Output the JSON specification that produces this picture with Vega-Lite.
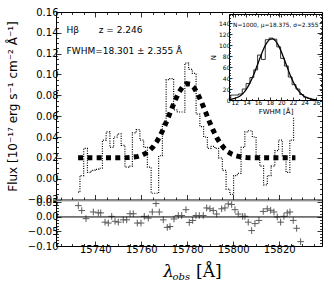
{
  "$schema": "https://vega.github.io/schema/vega-lite/v6.json",
  "width": 266,
  "height": 234,
  "autosize": {"type": "none"},
  "padding": {"left": 56, "top": 12, "right": 12, "bottom": 41},
  "config": {
    "font": "DejaVu Sans",
    "view": {"stroke": "black", "strokeWidth": 1},
    "axis": {"grid": false, "domain": false, "domainColor": "black", "labelColor": "black", "tickColor": "black", "titleColor": "black", "titleFontWeight": "normal", "labelFont": "DejaVu Sans", "titleFont": "DejaVu Sans", "labelOverlap": false, "labelFlush": false, "tickWidth": 0.8}
  },
  "datasets": {
    "spec": [
      {"wl": 15732.50, "flux": -0.013, "fit": 0.0200},
      {"wl": 15734.13, "flux": 0.003, "fit": 0.0200},
      {"wl": 15735.76, "flux": 0.029, "fit": 0.0200},
      {"wl": 15737.39, "flux": 0.006, "fit": 0.0200},
      {"wl": 15739.02, "flux": 0.008, "fit": 0.0200},
      {"wl": 15740.65, "flux": 0.009, "fit": 0.0200},
      {"wl": 15742.28, "flux": 0.010, "fit": 0.0200},
      {"wl": 15743.91, "flux": 0.037, "fit": 0.0200},
      {"wl": 15745.54, "flux": 0.045, "fit": 0.0200},
      {"wl": 15747.17, "flux": 0.030, "fit": 0.0200},
      {"wl": 15748.80, "flux": 0.040, "fit": 0.0200},
      {"wl": 15750.43, "flux": 0.043, "fit": 0.0200},
      {"wl": 15752.06, "flux": 0.032, "fit": 0.0201},
      {"wl": 15753.69, "flux": 0.011, "fit": 0.0202},
      {"wl": 15755.32, "flux": 0.012, "fit": 0.0204},
      {"wl": 15756.95, "flux": 0.044, "fit": 0.0208},
      {"wl": 15758.58, "flux": 0.047, "fit": 0.0214},
      {"wl": 15760.21, "flux": 0.037, "fit": 0.0225},
      {"wl": 15761.84, "flux": 0.030, "fit": 0.0242},
      {"wl": 15763.47, "flux": 0.011, "fit": 0.0268},
      {"wl": 15765.10, "flux": -0.014, "fit": 0.0305},
      {"wl": 15766.73, "flux": -0.014, "fit": 0.0355},
      {"wl": 15768.36, "flux": 0.022, "fit": 0.0419},
      {"wl": 15769.99, "flux": 0.053, "fit": 0.0496},
      {"wl": 15771.62, "flux": 0.095, "fit": 0.0583},
      {"wl": 15773.25, "flux": 0.096, "fit": 0.0673},
      {"wl": 15774.88, "flux": 0.066, "fit": 0.0760},
      {"wl": 15776.51, "flux": 0.064, "fit": 0.0834},
      {"wl": 15778.14, "flux": 0.064, "fit": 0.0887},
      {"wl": 15779.77, "flux": 0.111, "fit": 0.0912},
      {"wl": 15781.40, "flux": 0.105, "fit": 0.0907},
      {"wl": 15783.03, "flux": 0.101, "fit": 0.0871},
      {"wl": 15784.66, "flux": 0.062, "fit": 0.0810},
      {"wl": 15786.29, "flux": 0.050, "fit": 0.0730},
      {"wl": 15787.92, "flux": 0.040, "fit": 0.0641},
      {"wl": 15789.55, "flux": 0.029, "fit": 0.0551},
      {"wl": 15791.18, "flux": 0.031, "fit": 0.0468},
      {"wl": 15792.81, "flux": 0.029, "fit": 0.0395},
      {"wl": 15794.44, "flux": 0.020, "fit": 0.0336},
      {"wl": 15796.07, "flux": 0.008, "fit": 0.0291},
      {"wl": 15797.70, "flux": -0.010, "fit": 0.0258},
      {"wl": 15799.33, "flux": -0.015, "fit": 0.0236},
      {"wl": 15800.96, "flux": 0.003, "fit": 0.0221},
      {"wl": 15802.59, "flux": 0.005, "fit": 0.0212},
      {"wl": 15804.22, "flux": 0.030, "fit": 0.0206},
      {"wl": 15805.85, "flux": 0.045, "fit": 0.0203},
      {"wl": 15807.48, "flux": 0.046, "fit": 0.0201},
      {"wl": 15809.11, "flux": 0.040, "fit": 0.0200},
      {"wl": 15810.74, "flux": 0.022, "fit": 0.0200},
      {"wl": 15812.37, "flux": 0.012, "fit": 0.0200},
      {"wl": 15814.00, "flux": -0.006, "fit": 0.0200},
      {"wl": 15815.63, "flux": 0.003, "fit": 0.0200},
      {"wl": 15817.26, "flux": 0.012, "fit": 0.0200},
      {"wl": 15818.89, "flux": 0.027, "fit": 0.0200},
      {"wl": 15820.52, "flux": 0.037, "fit": 0.0200},
      {"wl": 15822.15, "flux": 0.022, "fit": 0.0200},
      {"wl": 15823.78, "flux": 0.006, "fit": 0.0200},
      {"wl": 15825.41, "flux": 0.037, "fit": 0.0200},
      {"wl": 15827.04, "flux": 0.058, "fit": 0.0200}
    ],
    "resid": [
      {"wl": 15732.61, "res": 0.039}, {"wl": 15734.09, "res": 0.022}, {"wl": 15735.96, "res": -0.006},
      {"wl": 15739.13, "res": 0.017}, {"wl": 15741.30, "res": 0.014}, {"wl": 15742.35, "res": 0.014},
      {"wl": 15744.22, "res": -0.018}, {"wl": 15745.65, "res": -0.021}, {"wl": 15747.13, "res": 0.002},
      {"wl": 15748.57, "res": -0.015}, {"wl": 15750.00, "res": -0.018}, {"wl": 15752.17, "res": -0.010},
      {"wl": 15753.65, "res": -0.010}, {"wl": 15755.09, "res": 0.011}, {"wl": 15756.52, "res": 0.011},
      {"wl": 15758.26, "res": -0.021}, {"wl": 15759.87, "res": -0.021}, {"wl": 15761.30, "res": 0.002},
      {"wl": 15763.04, "res": -0.004}, {"wl": 15764.78, "res": 0.017}, {"wl": 15766.39, "res": 0.046},
      {"wl": 15767.83, "res": 0.017}, {"wl": 15769.57, "res": -0.010}, {"wl": 15771.30, "res": -0.036},
      {"wl": 15772.48, "res": -0.033}, {"wl": 15774.22, "res": -0.007}, {"wl": 15776.09, "res": 0.005},
      {"wl": 15777.57, "res": 0.005}, {"wl": 15779.43, "res": 0.025}, {"wl": 15780.87, "res": -0.019},
      {"wl": 15782.35, "res": -0.012}, {"wl": 15783.78, "res": 0.005}, {"wl": 15785.22, "res": 0.005},
      {"wl": 15786.96, "res": 0.005}, {"wl": 15788.43, "res": 0.031}, {"wl": 15789.87, "res": 0.028},
      {"wl": 15791.30, "res": 0.022}, {"wl": 15792.78, "res": 0.010}, {"wl": 15794.96, "res": 0.028},
      {"wl": 15796.39, "res": 0.031}, {"wl": 15797.83, "res": 0.045}, {"wl": 15799.30, "res": 0.043},
      {"wl": 15800.74, "res": 0.025}, {"wl": 15802.17, "res": 0.010}, {"wl": 15804.09, "res": 0.002},
      {"wl": 15805.09, "res": 0.002}, {"wl": 15806.52, "res": -0.018}, {"wl": 15808.00, "res": -0.047},
      {"wl": 15809.43, "res": -0.023}, {"wl": 15811.17, "res": -0.012}, {"wl": 15813.04, "res": 0.019},
      {"wl": 15814.78, "res": 0.028}, {"wl": 15816.26, "res": 0.023}, {"wl": 15817.70, "res": 0.017},
      {"wl": 15819.13, "res": 0.000}, {"wl": 15820.61, "res": -0.018}, {"wl": 15822.04, "res": 0.002},
      {"wl": 15823.48, "res": 0.014}, {"wl": 15824.65, "res": 0.017}, {"wl": 15826.09, "res": -0.012},
      {"wl": 15827.57, "res": -0.039}, {"wl": 15829.30, "res": -0.085}
    ],
    "hist": [
      {"k": 0, "e": 11.30, "n": 0}, {"k": 1, "e": 11.30, "n": 9}, {"k": 2, "e": 11.96, "n": 9},
      {"k": 3, "e": 12.62, "n": 11}, {"k": 4, "e": 13.28, "n": 20}, {"k": 5, "e": 13.94, "n": 30},
      {"k": 6, "e": 14.60, "n": 41}, {"k": 7, "e": 15.26, "n": 55}, {"k": 8, "e": 15.92, "n": 82},
      {"k": 9, "e": 16.58, "n": 74}, {"k": 10, "e": 17.24, "n": 110}, {"k": 11, "e": 17.90, "n": 113},
      {"k": 12, "e": 18.56, "n": 111}, {"k": 13, "e": 19.22, "n": 97}, {"k": 14, "e": 19.88, "n": 76},
      {"k": 15, "e": 20.54, "n": 62}, {"k": 16, "e": 21.20, "n": 42}, {"k": 17, "e": 21.86, "n": 28},
      {"k": 18, "e": 22.52, "n": 20}, {"k": 19, "e": 23.18, "n": 10}, {"k": 20, "e": 23.84, "n": 5},
      {"k": 21, "e": 24.50, "n": 3}, {"k": 22, "e": 25.16, "n": 1}, {"k": 23, "e": 25.82, "n": 1},
      {"k": 24, "e": 25.82, "n": 0}
    ],
    "curve": [
      {"fw": 11.0, "n": 0.8}, {"fw": 11.5, "n": 1.6}, {"fw": 12.0, "n": 2.9}, {"fw": 12.5, "n": 5.0},
      {"fw": 13.0, "n": 8.3}, {"fw": 13.5, "n": 13.1}, {"fw": 14.0, "n": 19.9}, {"fw": 14.5, "n": 28.9},
      {"fw": 15.0, "n": 40.0}, {"fw": 15.5, "n": 53.0}, {"fw": 16.0, "n": 67.2}, {"fw": 16.5, "n": 81.4},
      {"fw": 17.0, "n": 94.3}, {"fw": 17.5, "n": 104.3}, {"fw": 18.0, "n": 110.4}, {"fw": 18.5, "n": 111.6},
      {"fw": 19.0, "n": 107.9}, {"fw": 19.5, "n": 99.7}, {"fw": 20.0, "n": 88.1}, {"fw": 20.5, "n": 74.4},
      {"fw": 21.0, "n": 60.1}, {"fw": 21.5, "n": 46.3}, {"fw": 22.0, "n": 34.2}, {"fw": 22.5, "n": 24.1},
      {"fw": 23.0, "n": 16.2}, {"fw": 23.5, "n": 10.5}, {"fw": 24.0, "n": 6.4}, {"fw": 24.5, "n": 3.8},
      {"fw": 25.0, "n": 2.1}, {"fw": 25.5, "n": 1.2}, {"fw": 26.0, "n": 0.6}
    ],
    "notes": [
      {"wl": 15727.5, "flux": 0.1427, "label": "Hβ"},
      {"wl": 15741.5, "flux": 0.1427, "label": "z =  2.246"},
      {"wl": 15727.5, "flux": 0.1229, "label": "FWHM=18.301 ± 2.355 Å"}
    ],
    "xt": [
      {"wl": 15769.5, "res": -0.208, "label": "λ"},
      {"wl": 15773.6, "res": -0.216, "label": "obs"},
      {"wl": 15783.8, "res": -0.208, "label": "[Å]"}
    ]
  },
  "layer": [
    {
      "data": {"name": "spec"},
      "mark": {"type": "line", "interpolate": "step", "strokeDash": [1, 1.4], "strokeWidth": 1.2, "color": "black"},
      "encoding": {
        "x": {"field": "wl", "type": "quantitative", "scale": {"domain": [15722.9, 15838.6], "range": [0, 266], "nice": false, "zero": false},
          "axis": {"orient": "bottom", "offset": -46.5, "title": null, "labels": false, "domain": true, "domainWidth": 1.2,
            "values": [15725, 15730, 15735, 15740, 15745, 15750, 15755, 15760, 15765, 15770, 15775, 15780, 15785, 15790, 15795, 15800, 15805, 15810, 15815, 15820, 15825, 15830, 15835],
            "tickSize": {"condition": {"test": "datum.value % 20 === 0", "value": -5}, "value": -2.5}}},
        "y": {"field": "flux", "type": "quantitative", "scale": {"domain": [-0.02, 0.16], "range": [187.5, 0], "nice": false, "zero": false},
          "axis": {"orient": "left", "format": ".2f", "labelFontSize": 10, "labelPadding": 3,
            "values": [-0.02, -0.015, -0.01, -0.005, 0, 0.005, 0.01, 0.015, 0.02, 0.025, 0.03, 0.035, 0.04, 0.045, 0.05, 0.055, 0.06, 0.065, 0.07, 0.075, 0.08, 0.085, 0.09, 0.095, 0.1, 0.105, 0.11, 0.115, 0.12, 0.125, 0.13, 0.135, 0.14, 0.145, 0.15, 0.155, 0.16],
            "labelExpr": "abs(datum.value*50 - round(datum.value*50)) < 0.01 ? datum.label : ''",
            "tickSize": {"condition": {"test": "abs(datum.value*50 - round(datum.value*50)) < 0.01", "value": -5}, "value": -2.5},
            "title": "Flux [10⁻¹⁷ erg s⁻¹ cm⁻² Å⁻¹]", "titleFontSize": 12, "titleAngle": 270, "titleX": -44, "titleY": 94, "titleAlign": "center", "titleBaseline": "middle"}}
      }
    },
    {
      "data": {"name": "spec"},
      "mark": {"type": "line", "strokeWidth": 5, "strokeDash": [5, 4.3], "strokeCap": "butt", "color": "black"},
      "encoding": {
        "x": {"field": "wl", "type": "quantitative", "scale": {"domain": [15722.9, 15838.6], "range": [0, 266], "nice": false, "zero": false},
          "axis": {"orient": "top", "title": null, "labels": false,
            "values": [15725, 15730, 15735, 15740, 15745, 15750, 15755, 15760, 15765, 15770, 15775, 15780, 15785, 15790, 15795, 15800, 15805, 15810, 15815, 15820, 15825, 15830, 15835],
            "tickSize": {"condition": {"test": "datum.value % 20 === 0", "value": -5}, "value": -2.5}}},
        "y": {"field": "fit", "type": "quantitative", "scale": {"domain": [-0.02, 0.16], "range": [187.5, 0], "nice": false, "zero": false},
          "axis": {"orient": "right", "title": null, "labels": false,
            "values": [-0.02, -0.015, -0.01, -0.005, 0, 0.005, 0.01, 0.015, 0.02, 0.025, 0.03, 0.035, 0.04, 0.045, 0.05, 0.055, 0.06, 0.065, 0.07, 0.075, 0.08, 0.085, 0.09, 0.095, 0.1, 0.105, 0.11, 0.115, 0.12, 0.125, 0.13, 0.135, 0.14, 0.145, 0.15, 0.155, 0.16],
            "tickSize": {"condition": {"test": "abs(datum.value*50 - round(datum.value*50)) < 0.01", "value": -5}, "value": -2.5}}}
      }
    },
    {
      "data": {"name": "resid"},
      "mark": {"type": "point", "shape": "M-1,0L1,0M0,-1L0,1", "size": 45, "filled": false, "strokeWidth": 1, "color": "#5a5a5a", "opacity": 1},
      "encoding": {
        "x": {"field": "wl", "type": "quantitative", "scale": {"domain": [15722.9, 15838.6], "range": [0, 266], "nice": false, "zero": false},
          "axis": {"orient": "bottom", "title": null, "format": "d", "labelFontSize": 10, "labelPadding": 3,
            "values": [15725, 15730, 15735, 15740, 15745, 15750, 15755, 15760, 15765, 15770, 15775, 15780, 15785, 15790, 15795, 15800, 15805, 15810, 15815, 15820, 15825, 15830, 15835],
            "labelExpr": "datum.value % 20 === 0 ? datum.label : ''",
            "tickSize": {"condition": {"test": "datum.value % 20 === 0", "value": -5}, "value": -2.5}}},
        "y": {"field": "res", "type": "quantitative", "scale": {"domain": [-0.1, 0.06], "range": [234, 187.5], "nice": false, "zero": false},
          "axis": {"orient": "left", "title": null, "format": ".2f", "labelFontSize": 10, "labelPadding": 3,
            "values": [-0.1, -0.09, -0.08, -0.07, -0.06, -0.05, -0.04, -0.03, -0.02, -0.01, 0, 0.01, 0.02, 0.03, 0.04, 0.05],
            "labelExpr": "abs(datum.value*20 - round(datum.value*20)) < 0.01 ? datum.label : ''",
            "tickSize": {"condition": {"test": "abs(datum.value*20 - round(datum.value*20)) < 0.01", "value": -5}, "value": -2.5}}}
      }
    },
    {
      "data": {"values": [{"res": 0}]},
      "mark": {"type": "rule", "color": "black", "strokeWidth": 1},
      "encoding": {
        "y": {"field": "res", "type": "quantitative", "scale": {"domain": [-0.1, 0.06], "range": [234, 187.5], "nice": false, "zero": false},
          "axis": {"orient": "right", "title": null, "labels": false,
            "values": [-0.1, -0.09, -0.08, -0.07, -0.06, -0.05, -0.04, -0.03, -0.02, -0.01, 0, 0.01, 0.02, 0.03, 0.04, 0.05],
            "tickSize": {"condition": {"test": "abs(datum.value*20 - round(datum.value*20)) < 0.01", "value": -5}, "value": -2.5}}}
      }
    },
    {
      "data": {"values": [{"res": 0.055}]},
      "mark": {"type": "rule", "color": "#a0a0a0", "strokeWidth": 1},
      "encoding": {
        "y": {"field": "res", "type": "quantitative", "scale": {"domain": [-0.1, 0.06], "range": [234, 187.5], "nice": false, "zero": false}, "axis": null}
      }
    },
    {
      "data": {"name": "hist"},
      "mark": {"type": "line", "interpolate": "step-after", "color": "black", "strokeWidth": 0.8},
      "encoding": {
        "order": {"field": "k", "type": "quantitative"},
        "x": {"field": "e", "type": "quantitative", "scale": {"domain": [11, 27], "range": [173, 266], "nice": false, "zero": false},
          "axis": {"orient": "bottom", "offset": -146, "domain": true, "format": "d", "labelFontSize": 6, "labelPadding": 2,
            "values": [11, 11.5, 12, 12.5, 13, 13.5, 14, 14.5, 15, 15.5, 16, 16.5, 17, 17.5, 18, 18.5, 19, 19.5, 20, 20.5, 21, 21.5, 22, 22.5, 23, 23.5, 24, 24.5, 25, 25.5, 26, 26.5],
            "labelExpr": "datum.value % 2 === 0 ? datum.label : ''",
            "tickSize": {"condition": {"test": "datum.value % 2 === 0", "value": -3}, "value": -1.5},
            "title": "FWHM [Å]", "titleFontSize": 7, "titlePadding": 1}},
        "y": {"field": "n", "type": "quantitative", "scale": {"domain": [0, 157], "range": [88, 2], "nice": false, "zero": false},
          "axis": {"orient": "left", "offset": -173, "domain": true, "labelFontSize": 6, "labelPadding": 2,
            "values": [0, 5, 10, 15, 20, 25, 30, 35, 40, 45, 50, 55, 60, 65, 70, 75, 80, 85, 90, 95, 100, 105, 110, 115, 120, 125, 130, 135, 140, 145, 150, 155],
            "labelExpr": "datum.value % 20 === 0 ? datum.label : ''",
            "tickSize": {"condition": {"test": "datum.value % 20 === 0", "value": -3}, "value": -1.5},
            "title": "N", "titleFontSize": 7, "titlePadding": 2}}
      }
    },
    {
      "data": {"name": "curve"},
      "mark": {"type": "line", "interpolate": "monotone", "color": "black", "strokeWidth": 1.3},
      "encoding": {
        "x": {"field": "fw", "type": "quantitative", "scale": {"domain": [11, 27], "range": [173, 266], "nice": false, "zero": false},
          "axis": {"orient": "top", "offset": -2, "domain": true, "labels": false, "title": null,
            "values": [11, 11.5, 12, 12.5, 13, 13.5, 14, 14.5, 15, 15.5, 16, 16.5, 17, 17.5, 18, 18.5, 19, 19.5, 20, 20.5, 21, 21.5, 22, 22.5, 23, 23.5, 24, 24.5, 25, 25.5, 26, 26.5],
            "tickSize": {"condition": {"test": "datum.value % 2 === 0", "value": -3}, "value": -1.5}}},
        "y": {"field": "n", "type": "quantitative", "scale": {"domain": [0, 157], "range": [88, 2], "nice": false, "zero": false},
          "axis": {"orient": "right", "domain": true, "labels": false, "title": null,
            "values": [0, 5, 10, 15, 20, 25, 30, 35, 40, 45, 50, 55, 60, 65, 70, 75, 80, 85, 90, 95, 100, 105, 110, 115, 120, 125, 130, 135, 140, 145, 150, 155],
            "tickSize": {"condition": {"test": "datum.value % 20 === 0", "value": -3}, "value": -1.5}}}
      }
    },
    {
      "data": {"values": [{"fw": 11.7, "n": 137, "label": "N=1000, μ=18.375, σ=2.355"}]},
      "mark": {"type": "text", "align": "left", "baseline": "middle", "fontSize": 5.8, "font": "DejaVu Sans", "color": "black"},
      "encoding": {
        "x": {"field": "fw", "type": "quantitative", "scale": {"domain": [11, 27], "range": [173, 266], "nice": false, "zero": false}, "axis": null},
        "y": {"field": "n", "type": "quantitative", "scale": {"domain": [0, 157], "range": [88, 2], "nice": false, "zero": false}, "axis": null},
        "text": {"field": "label"}
      }
    },
    {
      "data": {"name": "notes"},
      "mark": {"type": "text", "align": "left", "baseline": "middle", "fontSize": 9, "font": "DejaVu Sans", "color": "black"},
      "encoding": {
        "x": {"field": "wl", "type": "quantitative", "scale": {"domain": [15722.9, 15838.6], "range": [0, 266], "nice": false, "zero": false}, "axis": null},
        "y": {"field": "flux", "type": "quantitative", "scale": {"domain": [-0.02, 0.16], "range": [187.5, 0], "nice": false, "zero": false}, "axis": null},
        "text": {"field": "label"}
      }
    },
    {
      "data": {"name": "xt"},
      "transform": [{"filter": "datum.label === 'λ'"}],
      "mark": {"type": "text", "align": "left", "baseline": "alphabetic", "fontSize": 17, "font": "DejaVu Serif", "fontStyle": "italic", "color": "black"},
      "encoding": {
        "x": {"field": "wl", "type": "quantitative", "scale": {"domain": [15722.9, 15838.6], "range": [0, 266], "nice": false, "zero": false}, "axis": null},
        "y": {"field": "res", "type": "quantitative", "scale": {"domain": [-0.1, 0.06], "range": [234, 187.5], "nice": false, "zero": false}, "axis": null},
        "text": {"field": "label"}
      }
    },
    {
      "data": {"name": "xt"},
      "transform": [{"filter": "datum.label === 'obs'"}],
      "mark": {"type": "text", "align": "left", "baseline": "alphabetic", "fontSize": 10, "font": "DejaVu Serif", "fontStyle": "italic", "color": "black"},
      "encoding": {
        "x": {"field": "wl", "type": "quantitative", "scale": {"domain": [15722.9, 15838.6], "range": [0, 266], "nice": false, "zero": false}, "axis": null},
        "y": {"field": "res", "type": "quantitative", "scale": {"domain": [-0.1, 0.06], "range": [234, 187.5], "nice": false, "zero": false}, "axis": null},
        "text": {"field": "label"}
      }
    },
    {
      "data": {"name": "xt"},
      "transform": [{"filter": "datum.label === '[Å]'"}],
      "mark": {"type": "text", "align": "left", "baseline": "alphabetic", "fontSize": 17, "font": "DejaVu Serif", "color": "black"},
      "encoding": {
        "x": {"field": "wl", "type": "quantitative", "scale": {"domain": [15722.9, 15838.6], "range": [0, 266], "nice": false, "zero": false}, "axis": null},
        "y": {"field": "res", "type": "quantitative", "scale": {"domain": [-0.1, 0.06], "range": [234, 187.5], "nice": false, "zero": false}, "axis": null},
        "text": {"field": "label"}
      }
    }
  ],
  "resolve": {"scale": {"x": "independent", "y": "independent"}, "axis": {"x": "independent", "y": "independent"}}
}
